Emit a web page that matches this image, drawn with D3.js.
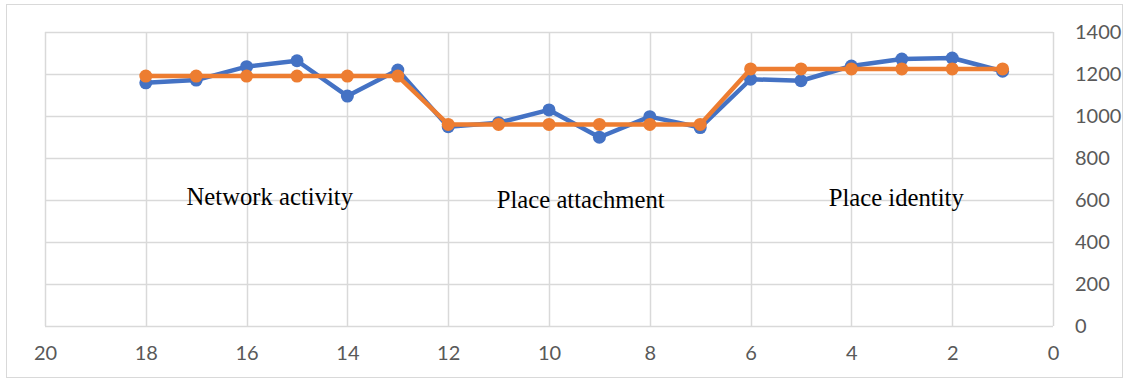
<!DOCTYPE html>
<meta charset="utf-8">
<script src="https://cdn.jsdelivr.net/npm/d3@7"></script>
<style>
  body { margin: 0; background: #fff; }
  .note { font-family: "Liberation Serif", "Times New Roman", serif; font-size: 24.7px; fill: #000; }
</style>
<body>
<script>
// item positions (x) and the two series
var positions = [18, 17, 16, 15, 14, 13, 12, 11, 10, 9, 8, 7, 6, 5, 4, 3, 2, 1];
var observed = [1158, 1171, 1235, 1263, 1095, 1219, 949, 968, 1029, 899, 997, 945, 1175, 1168, 1238, 1271, 1276, 1213];
var groupMean = [1190, 1190, 1190, 1190, 1190, 1190, 960, 960, 960, 960, 960, 960, 1224, 1224, 1224, 1224, 1224, 1224];
var xTicks = [20, 18, 16, 14, 12, 10, 8, 6, 4, 2, 0];
var yTicks = [0, 200, 400, 600, 800, 1000, 1200, 1400];
var notes = [
  {label: "Network activity", x: 15.54, y: 576},
  {label: "Place attachment", x: 9.37, y: 562},
  {label: "Place identity", x: 3.11, y: 571}
];

var width = 1129, height = 380;
var margin = {top: 32, right: 76, bottom: 54, left: 45};

var svg = d3.select("body").append("svg")
    .attr("width", width)
    .attr("height", height);

// chart frame
svg.append("rect")
    .attr("x", 6.5).attr("y", 4.5)
    .attr("width", width - 13).attr("height", height - 7)
    .attr("fill", "none").attr("stroke", "#d9d9d9");

var x = d3.scaleLinear().domain([20, 0]).range([margin.left, width - margin.right]);
var y = d3.scaleLinear().domain([0, 1400]).range([height - margin.bottom, margin.top]);

// grid lines
svg.append("g").selectAll("line").data(xTicks).enter().append("line")
    .attr("x1", function(d){ return Math.round(x(d)) + 0.5; })
    .attr("x2", function(d){ return Math.round(x(d)) + 0.5; })
    .attr("y1", y(0)).attr("y2", y(1400))
    .attr("stroke", "#d9d9d9").attr("stroke-width", 1.5);
svg.append("g").selectAll("line").data(yTicks).enter().append("line")
    .attr("y1", function(d){ return Math.round(y(d)) + 0.5; })
    .attr("y2", function(d){ return Math.round(y(d)) + 0.5; })
    .attr("x1", x(20)).attr("x2", x(0))
    .attr("stroke", "#d9d9d9").attr("stroke-width", 1.5);

// axes (labels only, Excel-like)
function styleAxis(g) {
    g.select(".domain").remove();
    g.attr("font-family", "Lato, 'Open Sans', sans-serif").attr("font-size", 20);
    g.selectAll("text").attr("fill", "#595959");
}

svg.append("g")
    .attr("transform", "translate(0," + y(0) + ")")
    .call(d3.axisBottom(x).tickValues(xTicks).tickFormat(d3.format("d")).tickSize(0).tickPadding(20))
    .call(styleAxis);

svg.append("g")
    .attr("transform", "translate(" + x(0) + ",0)")
    .call(d3.axisRight(y).tickValues(yTicks).tickFormat(d3.format("d")).tickSize(0).tickPadding(22))
    .call(styleAxis);

// annotations
svg.selectAll(".note").data(notes).enter().append("text")
    .attr("class", "note")
    .attr("x", function(d){ return x(d.x); })
    .attr("y", function(d){ return y(d.y); })
    .attr("text-anchor", "middle")
    .text(function(d){ return d.label; });

function drawSeries(values, color) {
    var pts = positions.map(function(p, i){ return [p, values[i]]; });
    var line = d3.line().x(function(d){ return x(d[0]); }).y(function(d){ return y(d[1]); });
    svg.append("path").datum(pts)
        .attr("d", line)
        .attr("fill", "none")
        .attr("stroke", color)
        .attr("stroke-width", 4.5)
        .attr("stroke-linejoin", "round");
    svg.append("g").selectAll("circle").data(pts).enter().append("circle")
        .attr("cx", function(d){ return x(d[0]); })
        .attr("cy", function(d){ return y(d[1]); })
        .attr("r", 6.5)
        .attr("fill", color);
}

drawSeries(observed, "#4472c4");
drawSeries(groupMean, "#ed7d31");
</script>
</body>
